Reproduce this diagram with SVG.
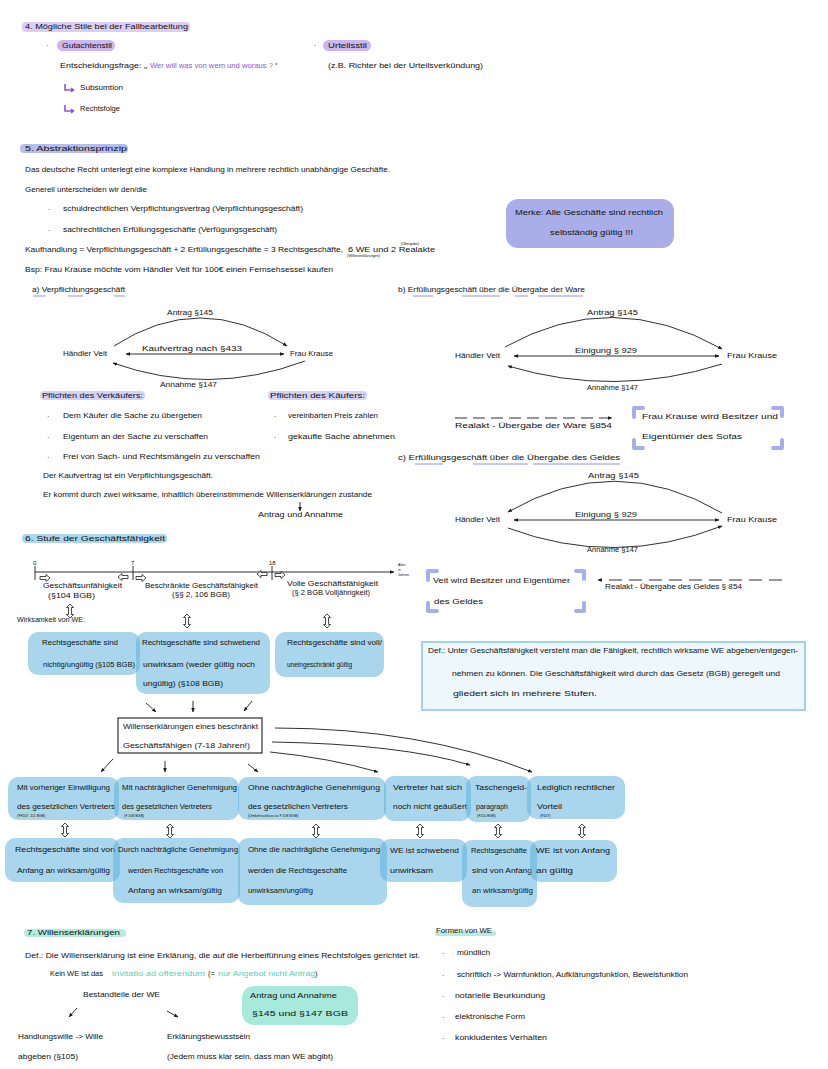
<svg xmlns="http://www.w3.org/2000/svg" xmlns:xlink="http://www.w3.org/1999/xlink" width="828" height="1069" viewBox="0 0 828 1069">
<style>
text{font-family:"Liberation Sans",Arial,sans-serif;font-size:7.5px;fill:#111}
.s{font-size:3.6px}
.n{font-size:6px}
.pu{fill:#8b55de}
.tl{fill:#55d2b6}
.ln{stroke:#1a1a1a;stroke-width:0.9;fill:none}
.ul{stroke:#8f93e3;stroke-width:1;fill:none}
.bx{fill:#5ab0dc;fill-opacity:0.52}
.br{stroke:#a7aeea;stroke-width:4;stroke-linecap:round;stroke-linejoin:round;fill:none}
.ho{fill:#fff;stroke:#1a1a1a;stroke-width:0.8}
</style>
<defs>
<marker id="ah" viewBox="0 0 10 10" refX="9" refY="5" markerWidth="5" markerHeight="5" orient="auto-start-reverse"><path d="M0,1 L10,5 L0,9 Z" fill="#1a1a1a"/></marker>
<path id="har" class="ho" d="M-5,-1.5 H1 V-3.5 L5,0 L1,3.5 V1.5 H-5 Z"/>
<path id="dar" class="ho" d="M0,-7 L3.5,-3.5 H1.5 V3.5 H3.5 L0,7 L-3.5,3.5 H-1.5 V-3.5 H-3.5 Z"/>
</defs>
<rect width="828" height="1069" fill="#fff"/>

<!-- Section 4 -->
<g id="sec4">
<rect x="22" y="22" width="168" height="10" rx="4" fill="#dccdf5"/>
<text x="25" y="29" textLength="163" lengthAdjust="spacingAndGlyphs">4. Mögliche Stile bei der Fallbearbeitung</text>
<text x="46" y="48">·</text>
<rect x="57" y="40" width="58" height="11" rx="5.5" fill="#cbb6ef"/>
<text x="62" y="48" textLength="50" lengthAdjust="spacingAndGlyphs">Gutachtenstil</text>
<text x="60" y="68" textLength="87" lengthAdjust="spacingAndGlyphs">Entscheidungsfrage: „</text>
<text x="150" y="68" class="pu" textLength="123" lengthAdjust="spacingAndGlyphs">Wer will was von wem und woraus ?</text>
<text x="275" y="68">“</text>
<path d="M65,84 V90 H73 M71,88 L73.5,90 L71,92" stroke="#8b55de" stroke-width="1.6" fill="none"/>
<text x="80" y="90" textLength="43" lengthAdjust="spacingAndGlyphs">Subsumtion</text>
<path d="M65,105 V111 H73 M71,109 L73.5,111 L71,113" stroke="#8b55de" stroke-width="1.6" fill="none"/>
<text x="80" y="111" textLength="40" lengthAdjust="spacingAndGlyphs">Rechtsfolge</text>
<text x="314" y="48">·</text>
<rect x="323" y="40" width="48" height="11" rx="5.5" fill="#cbb6ef"/>
<text x="328" y="48" textLength="39" lengthAdjust="spacingAndGlyphs">Urteilsstil</text>
<text x="328" y="68" textLength="155" lengthAdjust="spacingAndGlyphs">(z.B. Richter bei der Urteilsverkündung)</text>
</g>

<!-- Section 5 -->
<g id="sec5">
<rect x="20" y="144" width="108" height="9" rx="4" fill="#b4bdee"/>
<text x="25" y="151" textLength="102" lengthAdjust="spacingAndGlyphs">5. Abstraktionsprinzip</text>
<text x="25" y="172" textLength="365" lengthAdjust="spacingAndGlyphs">Das deutsche Recht unterlegt eine komplexe Handlung in mehrere rechtlich unabhängige Geschäfte.</text>
<text x="25" y="192" textLength="122" lengthAdjust="spacingAndGlyphs">Generell unterscheiden wir den/die</text>
<text x="48" y="212">·</text>
<text x="63" y="211" textLength="240" lengthAdjust="spacingAndGlyphs">schuldrechtlichen Verpflichtungsvertrag (Verpflichtungsgeschäft)</text>
<text x="48" y="233">·</text>
<text x="63" y="232" textLength="214" lengthAdjust="spacingAndGlyphs">sachrechtlichen Erfüllungsgeschäfte (Verfügungsgeschäft)</text>
<text x="25" y="252" textLength="318" lengthAdjust="spacingAndGlyphs">Kaufhandlung = Verpflichtungsgeschäft + 2 Erfüllungsgeschäfte = 3 Rechtsgeschäfte,</text>
<text x="348" y="252" textLength="87" lengthAdjust="spacingAndGlyphs">6 WE und 2 Realakte</text>
<text x="347" y="257" class="s">(Willenserklärungen)</text>
<text x="401" y="245" class="s">(Übergabe)</text>
<text x="25" y="272" textLength="308" lengthAdjust="spacingAndGlyphs">Bsp: Frau Krause möchte vom Händler Veit für 100€ einen Fernsehsessel kaufen</text>
</g>

<g id="merke">
<rect x="506" y="199" width="168" height="49" rx="12" fill="#a9aee8"/>
<text x="515" y="215" textLength="148" lengthAdjust="spacingAndGlyphs">Merke: Alle Geschäfte sind rechtlich</text>
<text x="550" y="235" textLength="83" lengthAdjust="spacingAndGlyphs">selbständig gültig !!!</text>
</g>

<!-- a) -->
<g id="a-heading">
<text x="32" y="292" textLength="93" lengthAdjust="spacingAndGlyphs">a) Verpflichtungsgeschäft</text>
<path class="ul" d="M33,296 H46 M68,296 H83 M114,296 H125"/>
</g>
<g id="a-veit"><text x="63" y="356" textLength="44" lengthAdjust="spacingAndGlyphs">Händler Veit</text></g>
<g id="a-krause"><text x="290" y="356" textLength="43" lengthAdjust="spacingAndGlyphs">Frau Krause</text></g>
<g id="a-labels">
<text x="167" y="315" textLength="46" lengthAdjust="spacingAndGlyphs">Antrag §145</text>
<text x="142" y="351" textLength="100" lengthAdjust="spacingAndGlyphs">Kaufvertrag nach §433</text>
<text x="160" y="387" textLength="57" lengthAdjust="spacingAndGlyphs">Annahme §147</text>
</g>
<g id="a-pflichten">
<rect x="40" y="391" width="105" height="9" rx="4" fill="#d4d2f6"/>
<text x="42" y="398" textLength="101" lengthAdjust="spacingAndGlyphs">Pflichten des Verkäufers:</text>
<rect x="268" y="391" width="99" height="9" rx="4" fill="#d4d2f6"/>
<text x="270" y="398" textLength="95" lengthAdjust="spacingAndGlyphs">Pflichten des Käufers:</text>
<text x="47" y="419">·</text>
<text x="63" y="418" textLength="139" lengthAdjust="spacingAndGlyphs">Dem Käufer die Sache zu übergeben</text>
<text x="47" y="440">·</text>
<text x="63" y="439" textLength="145" lengthAdjust="spacingAndGlyphs">Eigentum an der Sache zu verschaffen</text>
<text x="47" y="460">·</text>
<text x="63" y="459" textLength="197" lengthAdjust="spacingAndGlyphs">Frei von Sach- und Rechtsmängeln zu verschaffen</text>
<text x="274" y="419">·</text>
<text x="288" y="418" textLength="90" lengthAdjust="spacingAndGlyphs">vereinbarten Preis zahlen</text>
<text x="274" y="440">·</text>
<text x="288" y="439" textLength="107" lengthAdjust="spacingAndGlyphs">gekaufte Sache abnehmen</text>
<text x="43" y="478" textLength="170" lengthAdjust="spacingAndGlyphs">Der Kaufvertrag ist ein Verpflichtungsgeschäft.</text>
<text x="43" y="497" textLength="329" lengthAdjust="spacingAndGlyphs">Er kommt durch zwei wirksame, inhaltlich übereinstimmende Willenserklärungen zustande</text>
<text x="258" y="517" textLength="85" lengthAdjust="spacingAndGlyphs">Antrag und Annahme</text>
</g>

<!-- b) -->
<g id="b-heading">
<text x="398" y="292" textLength="187" lengthAdjust="spacingAndGlyphs">b) Erfüllungsgeschäft über die Übergabe der Ware</text>
<path class="ul" d="M413,296 H433 M462,296 H500 M515,296 H528 M538,296 H583"/>
</g>
<g id="b-veit"><text x="455" y="358" textLength="45" lengthAdjust="spacingAndGlyphs">Händler Veit</text></g>
<g id="b-krause"><text x="727" y="358" textLength="50" lengthAdjust="spacingAndGlyphs">Frau Krause</text></g>
<g id="b-labels">
<text x="587" y="315" textLength="51" lengthAdjust="spacingAndGlyphs">Antrag §145</text>
<text x="575" y="353" textLength="62" lengthAdjust="spacingAndGlyphs">Einigung § 929</text>
<text x="587" y="390" textLength="51" lengthAdjust="spacingAndGlyphs">Annahme §147</text>
<text x="455" y="428" textLength="157" lengthAdjust="spacingAndGlyphs">Realakt - Übergabe der Ware §854</text>
</g>
<g id="b-result">
<path class="br" d="M634,417 V408 H643 M773,408 H782 V416 M634,440 V448 H643 M773,448 H782 V440"/>
<text x="642" y="419" textLength="136" lengthAdjust="spacingAndGlyphs">Frau Krause wird Besitzer und</text>
<text x="642" y="439" textLength="100" lengthAdjust="spacingAndGlyphs">Eigentümer des Sofas</text>
</g>

<!-- c) -->
<g id="c-heading">
<text x="398" y="460" textLength="222" lengthAdjust="spacingAndGlyphs">c) Erfüllungsgeschäft über die Übergabe des Geldes</text>
<path class="ul" d="M415,464 H443 M473,464 H528 M533,464 H620"/>
</g>
<g id="c-veit"><text x="455" y="522" textLength="45" lengthAdjust="spacingAndGlyphs">Händler Veit</text></g>
<g id="c-krause"><text x="727" y="522" textLength="50" lengthAdjust="spacingAndGlyphs">Frau Krause</text></g>
<g id="c-labels">
<text x="588" y="478" textLength="51" lengthAdjust="spacingAndGlyphs">Antrag §145</text>
<text x="575" y="517" textLength="62" lengthAdjust="spacingAndGlyphs">Einigung § 929</text>
<text x="587" y="552" textLength="51" lengthAdjust="spacingAndGlyphs">Annahme §147</text>
<text x="605" y="589" textLength="137" lengthAdjust="spacingAndGlyphs">Realakt - Übergabe des Geldes § 854</text>
</g>
<g id="c-result">
<path class="br" d="M428,580 V571 H437 M576,571 H584 V579 M428,603 V611 H437 M576,611 H584 V603"/>
<text x="433" y="583" textLength="137" lengthAdjust="spacingAndGlyphs">Veit wird Besitzer und Eigentümer</text>
<text x="434" y="604" textLength="49" lengthAdjust="spacingAndGlyphs">des Geldes</text>
</g>

<!-- Section 6 -->
<g id="sec6">
<rect x="22" y="534" width="145" height="9" rx="4" fill="#acd6ec"/>
<text x="25" y="541" textLength="140" lengthAdjust="spacingAndGlyphs">6. Stufe der Geschäftsfähigkeit</text>
</g>
<g id="timeline">
<text x="33" y="565" class="n">0</text>
<text x="131" y="565" class="n">7</text>
<text x="269" y="565" class="n">18</text>
<text x="398" y="566" class="s">Alter</text>
<text x="398" y="571" class="s">in</text>
<text x="398" y="576" class="s">Jahren</text>
<text x="43" y="588" textLength="79" lengthAdjust="spacingAndGlyphs">Geschäftsunfähigkeit</text>
<text x="48" y="598" textLength="47" lengthAdjust="spacingAndGlyphs">(§104 BGB)</text>
<text x="145" y="588" textLength="113" lengthAdjust="spacingAndGlyphs">Beschränkte Geschäftsfähigkeit</text>
<text x="172" y="597" textLength="58" lengthAdjust="spacingAndGlyphs">(§§ 2, 106 BGB)</text>
<text x="287" y="586" textLength="91" lengthAdjust="spacingAndGlyphs">Volle Geschäftsfähigkeit</text>
<text x="292" y="595" textLength="78" lengthAdjust="spacingAndGlyphs">(§ 2 BGB Volljährigkeit)</text>
<text x="17" y="622" textLength="68" lengthAdjust="spacingAndGlyphs">Wirksamkeit von WE:</text>
</g>
<g id="wirk1">
<rect class="bx" x="28" y="632" width="112" height="43" rx="10"/>
<text x="42" y="645" textLength="76" lengthAdjust="spacingAndGlyphs">Rechtsgeschäfte sind</text>
<text x="43" y="667" textLength="92" lengthAdjust="spacingAndGlyphs">nichtig/ungültig (§105 BGB)</text>
</g>
<g id="wirk2">
<rect class="bx" x="136" y="632" width="134" height="62" rx="10"/>
<text x="142" y="645" textLength="118" lengthAdjust="spacingAndGlyphs">Rechtsgeschäfte sind schwebend</text>
<text x="143" y="667" textLength="112" lengthAdjust="spacingAndGlyphs">unwirksam (weder gültig noch</text>
<text x="143" y="686" textLength="80" lengthAdjust="spacingAndGlyphs">ungültig) (§108 BGB)</text>
</g>
<g id="wirk3">
<rect class="bx" x="275" y="632" width="109" height="45" rx="10"/>
<text x="287" y="645" textLength="95" lengthAdjust="spacingAndGlyphs">Rechtsgeschäfte sind voll/</text>
<text x="287" y="667" textLength="65" lengthAdjust="spacingAndGlyphs">uneingeschränkt gültig</text>
</g>
<g id="def-gf">
<rect x="422" y="642" width="383" height="68" fill="#eef7fb" stroke="#86c7d9" stroke-width="1.5"/>
<text x="428" y="653" textLength="370" lengthAdjust="spacingAndGlyphs">Def.: Unter Geschäftsfähigkeit versteht man die Fähigkeit, rechtlich wirksame WE abgeben/entgegen-</text>
<text x="452" y="676" textLength="328" lengthAdjust="spacingAndGlyphs">nehmen zu können. Die Geschäftsfähigkeit wird durch das Gesetz (BGB) geregelt und</text>
<text x="453" y="696" textLength="144" lengthAdjust="spacingAndGlyphs">gliedert sich in mehrere Stufen.</text>
</g>
<g id="we-beschraenkt">
<rect x="118" y="718" width="144" height="35" fill="#fff" stroke="#1a1a1a" stroke-width="1.1"/>
<text x="123" y="729" textLength="135" lengthAdjust="spacingAndGlyphs">Willenserklärungen eines beschränkt</text>
<text x="123" y="748" textLength="127" lengthAdjust="spacingAndGlyphs">Geschäftsfähigen (7-18 Jahren!)</text>
</g>
<g id="r1a">
<rect class="bx" x="8" y="777" width="111" height="43" rx="10"/>
<text x="17" y="790" textLength="93" lengthAdjust="spacingAndGlyphs">Mit vorheriger Einwilligung</text>
<text x="17" y="809" textLength="98" lengthAdjust="spacingAndGlyphs">des gesetzlichen Vertreters</text>
<text x="17" y="817" class="s">(§§107, 111 BGB)</text>
</g>
<g id="r1b">
<rect class="bx" x="114" y="777" width="125" height="43" rx="10"/>
<text x="122" y="790" textLength="115" lengthAdjust="spacingAndGlyphs">Mit nachträglicher Genehmigung</text>
<text x="122" y="809" textLength="90" lengthAdjust="spacingAndGlyphs">des gesetzlichen Vertreters</text>
<text x="124" y="817" class="s">(§ 108 BGB)</text>
</g>
<g id="r1c">
<rect class="bx" x="238" y="777" width="148" height="43" rx="10"/>
<text x="248" y="790" textLength="132" lengthAdjust="spacingAndGlyphs">Ohne nachträgliche Genehmigung</text>
<text x="248" y="809" textLength="100" lengthAdjust="spacingAndGlyphs">des gesetzlichen Vertreters</text>
<text x="248" y="817" class="s">(Umkehrschluss zu § 108 BGB)</text>
</g>
<g id="r1d">
<rect class="bx" x="384" y="776" width="87" height="45" rx="10"/>
<text x="393" y="790" textLength="69" lengthAdjust="spacingAndGlyphs">Vertreter hat sich</text>
<text x="393" y="809" textLength="74" lengthAdjust="spacingAndGlyphs">noch nicht geäußert</text>
</g>
<g id="r1e">
<rect class="bx" x="466" y="776" width="65" height="46" rx="10"/>
<text x="475" y="790" textLength="52" lengthAdjust="spacingAndGlyphs">Taschengeld-</text>
<text x="476" y="809" textLength="32" lengthAdjust="spacingAndGlyphs">paragraph</text>
<text x="477" y="817" class="s">(§110 BGB)</text>
</g>
<g id="r1f">
<rect class="bx" x="527" y="776" width="98" height="43" rx="10"/>
<text x="537" y="790" textLength="78" lengthAdjust="spacingAndGlyphs">Lediglich rechtlicher</text>
<text x="537" y="809" textLength="25" lengthAdjust="spacingAndGlyphs">Vorteil</text>
<text x="540" y="817" class="s">(§107)</text>
</g>
<g id="r2a">
<rect class="bx" x="5" y="838" width="115" height="44" rx="10"/>
<text x="15" y="852" textLength="100" lengthAdjust="spacingAndGlyphs">Rechtsgeschäfte sind von</text>
<text x="17" y="873" textLength="93" lengthAdjust="spacingAndGlyphs">Anfang an wirksam/gültig</text>
</g>
<g id="r2b">
<rect class="bx" x="113" y="838" width="127" height="65" rx="10"/>
<text x="118" y="852" textLength="120" lengthAdjust="spacingAndGlyphs">Durch nachträgliche Genehmigung</text>
<text x="128" y="873" textLength="95" lengthAdjust="spacingAndGlyphs">werden Rechtsgeschäfte von</text>
<text x="128" y="893" textLength="94" lengthAdjust="spacingAndGlyphs">Anfang an wirksam/gültig</text>
</g>
<g id="r2c">
<rect class="bx" x="238" y="838" width="149" height="67" rx="10"/>
<text x="248" y="852" textLength="132" lengthAdjust="spacingAndGlyphs">Ohne die nachträgliche Genehmigung</text>
<text x="248" y="873" textLength="99" lengthAdjust="spacingAndGlyphs">werden die Rechtsgeschäfte</text>
<text x="248" y="893" textLength="65" lengthAdjust="spacingAndGlyphs">unwirksam/ungültig</text>
</g>
<g id="r2d">
<rect class="bx" x="380" y="839" width="87" height="43" rx="10"/>
<text x="390" y="853" textLength="69" lengthAdjust="spacingAndGlyphs">WE ist schwebend</text>
<text x="390" y="873" textLength="43" lengthAdjust="spacingAndGlyphs">unwirksam</text>
</g>
<g id="r2e">
<rect class="bx" x="462" y="840" width="75" height="67" rx="10"/>
<text x="471" y="853" textLength="56" lengthAdjust="spacingAndGlyphs">Rechtsgeschäfte</text>
<text x="472" y="873" textLength="60" lengthAdjust="spacingAndGlyphs">sind von Anfang</text>
<text x="472" y="893" textLength="61" lengthAdjust="spacingAndGlyphs">an wirksam/gültig</text>
</g>
<g id="r2f">
<rect class="bx" x="530" y="840" width="87" height="42" rx="10"/>
<text x="536" y="853" textLength="74" lengthAdjust="spacingAndGlyphs">WE ist von Anfang</text>
<text x="536" y="873" textLength="37" lengthAdjust="spacingAndGlyphs">an gültig</text>
</g>

<!-- Section 7 -->
<g id="sec7">
<rect x="24" y="929" width="102" height="8" rx="4" fill="#b5ecdd"/>
<text x="27" y="935" textLength="93" lengthAdjust="spacingAndGlyphs">7. Willenserklärungen</text>
<text x="25" y="958" textLength="395" lengthAdjust="spacingAndGlyphs">Def.: Die Willenserklärung ist eine Erklärung, die auf die Herbeiführung eines Rechtsfolges gerichtet ist.</text>
<text x="50" y="976" textLength="53" lengthAdjust="spacingAndGlyphs">Kein WE ist das</text>
<text x="112" y="976" class="tl" textLength="93" lengthAdjust="spacingAndGlyphs">invitatio ad offerendum</text>
<text x="208" y="976">(=</text>
<text x="218" y="976" class="tl" textLength="97" lengthAdjust="spacingAndGlyphs">nur Angebot nicht Antrag</text>
<text x="315" y="976">)</text>
<text x="83" y="997" textLength="77" lengthAdjust="spacingAndGlyphs">Bestandteile der WE</text>
<text x="18" y="1039" textLength="85" lengthAdjust="spacingAndGlyphs">Handlungswille -&gt; Wille</text>
<text x="18" y="1059" textLength="60" lengthAdjust="spacingAndGlyphs">abgeben (§105)</text>
<text x="167" y="1039" textLength="83" lengthAdjust="spacingAndGlyphs">Erklärungsbewusstsein</text>
<text x="167" y="1059" textLength="166" lengthAdjust="spacingAndGlyphs">(Jedem muss klar sein, dass man WE abgibt)</text>
</g>
<g id="antrag-annahme">
<rect x="242" y="986" width="116" height="39" rx="12" fill="#a7eadb"/>
<text x="250" y="998" textLength="87" lengthAdjust="spacingAndGlyphs">Antrag und Annahme</text>
<text x="252" y="1016" textLength="96" lengthAdjust="spacingAndGlyphs">§145 und §147 BGB</text>
</g>
<g id="formen">
<rect x="435" y="931" width="61" height="5" rx="2.5" fill="#b5ecdd"/>
<text x="436" y="933" textLength="56" lengthAdjust="spacingAndGlyphs">Formen von WE</text>
<text x="442" y="956">·</text>
<text x="457" y="955" textLength="33" lengthAdjust="spacingAndGlyphs">mündlich</text>
<text x="442" y="978">·</text>
<text x="457" y="977" textLength="231" lengthAdjust="spacingAndGlyphs">schriftlich -&gt; Warnfunktion, Aufklärungsfunktion, Beweisfunktion</text>
<text x="442" y="999">·</text>
<text x="455" y="998" textLength="90" lengthAdjust="spacingAndGlyphs">notarielle Beurkundung</text>
<text x="442" y="1020">·</text>
<text x="455" y="1019" textLength="70" lengthAdjust="spacingAndGlyphs">elektronische Form</text>
<text x="442" y="1041">·</text>
<text x="455" y="1040" textLength="92" lengthAdjust="spacingAndGlyphs">konkludentes Verhalten</text>
</g>

<!-- Connectors -->
<g id="connectors">
<path class="ln" d="M114,346 Q200,290 287,346" marker-end="url(#ah)"/>
<path class="ln" d="M126,354 H284" marker-start="url(#ah)" marker-end="url(#ah)"/>
<path class="ln" d="M305,361 Q209,397 113,363" marker-end="url(#ah)"/>
<path class="ln" d="M300,502 V511" marker-end="url(#ah)"/>

<path class="ln" d="M505,347 Q612,287 722,349" marker-end="url(#ah)"/>
<path class="ln" d="M514,356 H719" marker-start="url(#ah)" marker-end="url(#ah)"/>
<path class="ln" d="M722,364 Q615,398 508,366" marker-end="url(#ah)"/>
<path class="ln" d="M455,418 H612" stroke-dasharray="12,6" marker-end="url(#ah)"/>

<path class="ln" d="M722,513 Q615,450 508,512" marker-end="url(#ah)"/>
<path class="ln" d="M514,520 H719" marker-start="url(#ah)" marker-end="url(#ah)"/>
<path class="ln" d="M508,528 Q615,568 722,526" marker-end="url(#ah)"/>
<path class="ln" d="M782,580 H598" stroke-dasharray="13,7" marker-end="url(#ah)"/>

<path class="ln" d="M35,572 H394" marker-end="url(#ah)"/>
<path class="ln" d="M35,566 V580 M133,566 V580 M272,566 V580"/>
<use href="#har" x="45" y="578"/>
<use href="#har" transform="translate(123,577) scale(-1,1)"/>
<use href="#har" x="141" y="578"/>
<use href="#har" transform="translate(262,574) scale(-1,1)"/>
<use href="#har" x="280" y="575"/>
<use href="#dar" x="70" y="611"/>
<use href="#dar" x="187" y="621"/>
<use href="#dar" x="327" y="621"/>

<path class="ln" d="M146,703 L156,712" marker-end="url(#ah)"/>
<path class="ln" d="M193,701 V712" marker-end="url(#ah)"/>
<path class="ln" d="M252,701 L244,711" marker-end="url(#ah)"/>
<path class="ln" d="M113,759 L101,772" marker-end="url(#ah)"/>
<path class="ln" d="M165,761 V772" marker-end="url(#ah)"/>
<path class="ln" d="M248,764 L258,772" marker-end="url(#ah)"/>
<path class="ln" d="M275,728 Q420,728 532,772" marker-end="url(#ah)"/>
<path class="ln" d="M272,742 Q400,744 470,765" marker-end="url(#ah)"/>
<path class="ln" d="M270,752 Q330,758 378,772" marker-end="url(#ah)"/>

<use href="#dar" x="65" y="830"/>
<use href="#dar" x="170" y="831"/>
<use href="#dar" x="316" y="831"/>
<use href="#dar" x="420" y="831"/>
<use href="#dar" x="498" y="831"/>
<use href="#dar" x="582" y="831"/>

<path class="ln" d="M77,1008 L69,1017" marker-end="url(#ah)"/>
<path class="ln" d="M167,1011 L178,1017" marker-end="url(#ah)"/>
</g>
</svg>
